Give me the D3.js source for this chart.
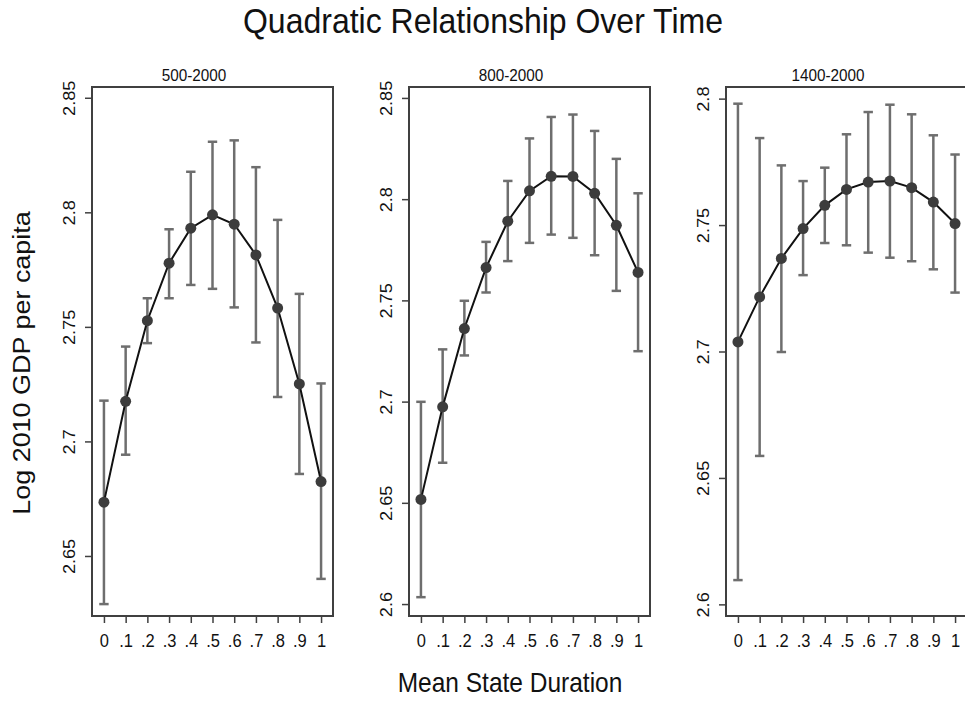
<!DOCTYPE html>
<html>
<head>
<meta charset="utf-8">
<script src="https://cdn.jsdelivr.net/npm/d3@7"></script>
<style>
  body { margin: 0; background: #fff; }
  text { font-family: "Liberation Sans", Arial, sans-serif; fill: #111; }
</style>
</head>
<body>
<div id="chart"></div>
<script>
// values
var xs = [0, .1, .2, .3, .4, .5, .6, .7, .8, .9, 1];

var panelTitles = ["500-2000", "800-2000", "1400-2000"];

var est1 = [2.6735, 2.7175, 2.7527, 2.7778, 2.7931, 2.7989, 2.7948, 2.7814, 2.7582, 2.7251, 2.6825];
var hi1  = [2.7178, 2.7414, 2.7625, 2.7926, 2.8177, 2.8308, 2.8314, 2.8197, 2.7967, 2.7644, 2.7253];
var lo1  = [2.6290, 2.6942, 2.7429, 2.7625, 2.7683, 2.7666, 2.7585, 2.7432, 2.7194, 2.6858, 2.6400];

var est2 = [2.6517, 2.6974, 2.7361, 2.7662, 2.7891, 2.8041, 2.8113, 2.8112, 2.8029, 2.7871, 2.7638];
var hi2  = [2.6999, 2.7258, 2.7498, 2.7789, 2.8090, 2.8300, 2.8406, 2.8418, 2.8337, 2.8199, 2.8029];
var lo2  = [2.6034, 2.6698, 2.7228, 2.7539, 2.7694, 2.7784, 2.7825, 2.7809, 2.7723, 2.7547, 2.7249];

var est3 = [2.7038, 2.7216, 2.7368, 2.7486, 2.7578, 2.7641, 2.7670, 2.7674, 2.7648, 2.7591, 2.7506];
var hi3  = [2.7980, 2.7844, 2.7736, 2.7674, 2.7727, 2.7859, 2.7947, 2.7976, 2.7938, 2.7855, 2.7779];
var lo3  = [2.6096, 2.6587, 2.6998, 2.7302, 2.7429, 2.7420, 2.7391, 2.7371, 2.7357, 2.7325, 2.7233];

var yTicks1 = [2.65, 2.7, 2.75, 2.8, 2.85];
var yTicks2 = [2.6, 2.65, 2.7, 2.75, 2.8, 2.85];
var yTicks3 = [2.6, 2.65, 2.7, 2.75, 2.8];

var yRange1 = [2.6238, 2.8547];
var yRange2 = [2.5941, 2.8554];
var yRange3 = [2.5954, 2.8046];

var panels = [
  {title: panelTitles[0], est: est1, hi: hi1, lo: lo1, ticks: yTicks1, dom: yRange1},
  {title: panelTitles[1], est: est2, hi: hi2, lo: lo2, ticks: yTicks2, dom: yRange2},
  {title: panelTitles[2], est: est3, hi: hi3, lo: lo3, ticks: yTicks3, dom: yRange3}
];

// layout
var W = 965, H = 704;
var SY = 1.1;   // the picture is slightly stretched vertically
var pw = 241, pTop = 87, pBottom = 616;
var lefts = [92, 409, 726];

var svg = d3.select("#chart").append("svg")
    .attr("width", W)
    .attr("height", H);

svg.append("rect").attr("width", W).attr("height", H).attr("fill", "#fff");

// overall title and axis titles
svg.append("text")
    .attr("text-anchor", "middle")
    .attr("font-size", 32)
    .attr("transform", "translate(483,33) scale(1," + SY + ")")
    .text("Quadratic Relationship Over Time");

svg.append("text")
    .attr("text-anchor", "middle")
    .attr("font-size", 24.5)
    .attr("transform", "translate(30,363) scale(1," + SY + ") rotate(-90)")
    .text("Log 2010 GDP per capita");

svg.append("text")
    .attr("text-anchor", "middle")
    .attr("font-size", 24.5)
    .attr("transform", "translate(510,692) scale(1," + SY + ")")
    .text("Mean State Duration");

var xFmt = function(d) {
  if (d === 0) return "0";
  if (d === 1) return "1";
  return d.toFixed(1).slice(1);
};
var yFmt = function(d) { return String(+d.toFixed(2)); };

panels.forEach(function(p, i) {
  var g = svg.append("g").attr("transform", "translate(" + lefts[i] + ",0)");

  var x = d3.scaleLinear().domain([-0.055, 1.055]).range([0, pw]);
  var y = d3.scaleLinear().domain(p.dom).range([pBottom, pTop]);

  // panel title
  g.append("text")
      .attr("text-anchor", "middle")
      .attr("font-size", 15.3)
      .attr("transform", "translate(" + (pw / 2 - 18.5) + ",80.5) scale(1," + SY + ")")
      .text(p.title);

  // y axis
  var ya = g.append("g")
      .call(d3.axisLeft(y).tickValues(p.ticks).tickSize(7).tickFormat(yFmt));
  ya.select(".domain").remove();
  ya.selectAll("line").attr("stroke", "#404040").attr("stroke-width", 1.5);
  ya.selectAll("text")
      .attr("x", 0).attr("y", 0).attr("dy", null)
      .attr("text-anchor", "middle")
      .attr("font-size", 16.5)
      .attr("fill", "#222")
      .attr("transform", "translate(-16.7,0) scale(1," + SY + ") rotate(-90)");

  // x axis
  var xa = g.append("g")
      .attr("transform", "translate(0," + pBottom + ")")
      .call(d3.axisBottom(x).tickValues(xs).tickSize(7).tickFormat(xFmt));
  xa.select(".domain").remove();
  xa.selectAll("line").attr("stroke", "#404040").attr("stroke-width", 1.5);
  xa.selectAll("text")
      .attr("y", 0).attr("dy", null)
      .attr("font-size", 16.5)
      .attr("fill", "#222")
      .attr("transform", "translate(0,30.7) scale(1," + SY + ")");

  // frame
  g.append("rect")
      .attr("x", 0).attr("y", pTop)
      .attr("width", pw).attr("height", pBottom - pTop)
      .attr("fill", "none")
      .attr("stroke", "#404040")
      .attr("stroke-width", 2);

  var rows = xs.map(function(v, k) {
    return {x: v, est: p.est[k], hi: p.hi[k], lo: p.lo[k]};
  });

  // confidence bars
  var bars = g.append("g")
      .attr("stroke", "#6e6e6e")
      .attr("stroke-width", 2.5)
      .selectAll("g")
      .data(rows)
      .enter().append("g");
  bars.append("line")
      .attr("x1", function(d) { return x(d.x); })
      .attr("x2", function(d) { return x(d.x); })
      .attr("y1", function(d) { return y(d.lo); })
      .attr("y2", function(d) { return y(d.hi); });
  bars.append("line")
      .attr("x1", function(d) { return x(d.x) - 4.7; })
      .attr("x2", function(d) { return x(d.x) + 4.7; })
      .attr("y1", function(d) { return y(d.hi); })
      .attr("y2", function(d) { return y(d.hi); });
  bars.append("line")
      .attr("x1", function(d) { return x(d.x) - 4.7; })
      .attr("x2", function(d) { return x(d.x) + 4.7; })
      .attr("y1", function(d) { return y(d.lo); })
      .attr("y2", function(d) { return y(d.lo); });

  // connecting line
  g.append("path")
      .datum(rows)
      .attr("fill", "none")
      .attr("stroke", "#111")
      .attr("stroke-width", 2)
      .attr("d", d3.line()
        .x(function(d) { return x(d.x); })
        .y(function(d) { return y(d.est); }));

  // markers
  g.append("g")
      .selectAll("circle")
      .data(rows)
      .enter().append("circle")
      .attr("cx", function(d) { return x(d.x); })
      .attr("cy", function(d) { return y(d.est); })
      .attr("r", 5.5)
      .attr("fill", "#3c3c3c");
});
</script>
</body>
</html>
